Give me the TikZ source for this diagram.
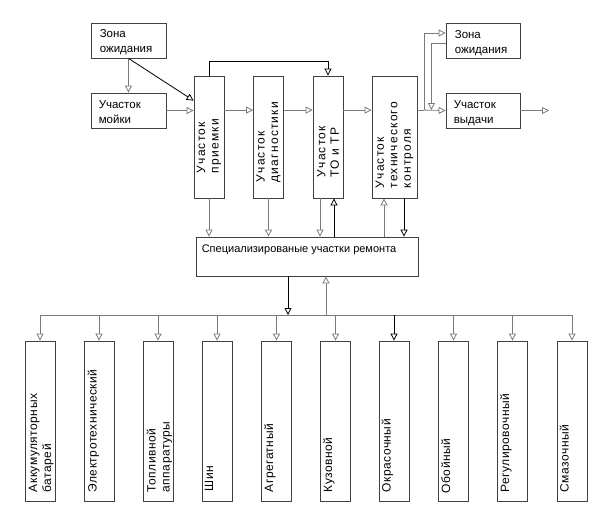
\documentclass[tikz,border=0pt]{standalone}
\usepackage{fontspec}
\setmainfont{Liberation Sans}
\newfontfamily\rotfont[LetterSpace=10]{Liberation Sans}
\newfontfamily\botfont[LetterSpace=4]{Liberation Sans}
\usetikzlibrary{arrows.meta,calc}
\definecolor{boxc}{HTML}{404040}
\definecolor{linec}{HTML}{7A7A7A}
\begin{document}
\begin{tikzpicture}[x=1pt,y=-1pt,
  box/.style={draw=boxc, line width=0.8pt, inner sep=0pt},
  conn/.style={draw=linec, line width=0.8pt},
  dark/.style={draw=black},
  arr/.style={-{Triangle[open,length=7pt,width=7pt,fill=white]}},
  lbl/.style={inner sep=0pt, align=left, anchor=north west, font=\fontsize{11.5}{14.3}\selectfont},
  vlbl/.style={inner sep=0pt, align=left, rotate=90, anchor=west, font=\rotfont\fontsize{12}{13.5}\selectfont},
  blbl/.style={inner sep=0pt, align=left, rotate=90, anchor=north west, font=\botfont\fontsize{12}{14}\selectfont},
  hbox/.style={box, minimum width=75pt, minimum height=35pt},
  tbox/.style={box, minimum width=30pt, minimum height=122pt},
  bbox/.style={box, minimum width=30pt, minimum height=160pt}]
\useasboundingbox (0,0) rectangle (607,525);

% upper row boxes
\node[hbox] (z1) at (128.5,40.5) {};
\node[hbox] (m1) at (128.5,110.5) {};
\node[tbox] (pr) at (209,137) {};
\node[tbox] (dg) at (268.5,137) {};
\node[tbox] (to) at (328,137) {};
\node[tbox, minimum width=45pt] (kc) at (394.5,137) {};
\node[hbox, minimum width=74pt] (z2) at (483,40.5) {};
\node[hbox, minimum width=74pt] (vy) at (483,110.5) {};
\node[box, minimum width=222pt, minimum height=39pt] (sp) at (307,256.5) {};

% labels
\node[lbl] (lz1) at ($(z1.north west)+(9,7)$) {Зона\\ожидания};
\node[lbl] (lm1) at ($(m1.north west)+(8,8)$) {Участок\\мойки};
\node[lbl] (lz2) at ($(z2.north west)+(9,8)$) {Зона\\ожидания};
\node[lbl] (lvy) at ($(vy.north west)+(8,8)$) {Участок\\выдачи};
\node[lbl, font=\fontsize{11}{14}\selectfont] (lsp) at ($(sp.north west)+(6,8)$) {Специализированые участки ремонта};
\node[vlbl] (lpr) at ($(pr.south)+(0,-25)$) {Участок\\приемки};
\node[vlbl] (ldg) at ($(dg.south)+(0,-16)$) {Участок\\диагностики};
\node[vlbl] (lto) at ($(to.south)+(0,-21)$) {Участок\\ТО и ТР};
\node[vlbl] (lkc) at ($(kc.south)+(0,-10)$) {Участок\\технического\\контроля};

% bottom boxes
\foreach \n/\x in {1/40,2/99,3/158,4/217,5/276.5,6/335.5,7/394,8/453.5,9/512.5,10/572}
  \node[bbox] (b\n) at (\x,421) {};
\node[blbl] (l1) at ($(b1.south west)+(4,-9)$) {Аккумуляторных\\батарей};
\node[blbl] (l2) at ($(b2.south west)+(4,-9)$) {Электротехнический};
\node[blbl] (l3) at ($(b3.south west)+(4,-9)$) {Топливной\\аппаратуры};
\node[blbl] (l4) at ($(b4.south west)+(3,-10)$) {Шин};
\node[blbl] (l5) at ($(b5.south west)+(3,-9)$) {Агрегатный};
\node[blbl] (l6) at ($(b6.south west)+(3,-9)$) {Кузовной};
\node[blbl] (l7) at ($(b7.south west)+(3,-9)$) {Окрасочный};
\node[blbl] (l8) at ($(b8.south west)+(3,-8)$) {Обойный};
\node[blbl] (l9) at ($(b9.south west)+(3,-9)$) {Регулировочный};
\node[blbl] (l10) at ($(b10.south west)+(3,-9)$) {Смазочный};

% coordinates
\coordinate (dpr) at ($(pr.north west)+(0,25)$);
\coordinate (fb) at ($(pr.north)+(0,-14)$);
\coordinate (toD) at ($(to.south)+(-8,0)$);
\coordinate (toU) at ($(to.south)+(6,0)$);
\coordinate (kcU) at ($(kc.south)+(-10.5,0)$);
\coordinate (kcD) at ($(kc.south)+(9.5,0)$);
\coordinate (spD) at ($(sp.south)+(-19,0)$);
\coordinate (spU) at ($(sp.south)+(19,0)$);
\coordinate (bus) at (0,315);
\coordinate (kcO) at ($(kc.north east)+(0,34.5)$);
\coordinate (j1) at ($(kcO)+(7,0)$);
\coordinate (j2) at ($(kcO)+(14,0)$);
\coordinate (z2in) at ($(z2.west)+(0,-7.5)$);
\coordinate (z2out) at ($(z2.west)+(0,2.5)$);
\coordinate (out) at (549,110.5);

% connectors upper
\draw[conn,arr] (z1.south) -- (m1.north);
\draw[conn,dark,arr] (z1.south) -- (dpr);
\draw[conn,arr] (m1.east) -- (m1.east -| pr.west);
\draw[conn,arr] ($(pr.north east)+(0,34.5)$) -- ($(dg.north west)+(0,34.5)$);
\draw[conn,arr] ($(dg.north east)+(0,34.5)$) -- ($(to.north west)+(0,34.5)$);
\draw[conn,arr] ($(to.north east)+(0,34.5)$) -- ($(kc.north west)+(0,34.5)$);
\draw[conn,dark,arr] (pr.north) -- (fb) -| (to.north);
\draw[conn] (kcO) -- (j1);
\draw[conn,arr] (j1) -- (vy.west);
\draw[conn,arr] (j1) |- (z2in);
\draw[conn,arr] (z2out) -| (j2);
\draw[conn,arr] (vy.east) -- (out);

% connectors to specialised box
\draw[conn,arr] (pr.south) -- (pr.south |- sp.north);
\draw[conn,arr] (dg.south) -- (dg.south |- sp.north);
\draw[conn,arr] (toD) -- (toD |- sp.north);
\draw[conn,dark,arr] (toU |- sp.north) -- (toU);
\draw[conn,arr] (kcU |- sp.north) -- (kcU);
\draw[conn,dark,arr] (kcD) -- (kcD |- sp.north);

% bus
\draw[conn,dark,arr] (spD) -- (spD |- bus);
\draw[conn,arr] (spU |- bus) -- (spU);
\draw[conn] (b1.north |- bus) -- (b10.north |- bus);
\foreach \n in {1,2,3,4,5,6,8,9,10}
  \draw[conn,arr] (b\n.north |- bus) -- (b\n.north);
\draw[conn,dark,arr] (b7.north |- bus) -- (b7.north);
\end{tikzpicture}
\end{document}
